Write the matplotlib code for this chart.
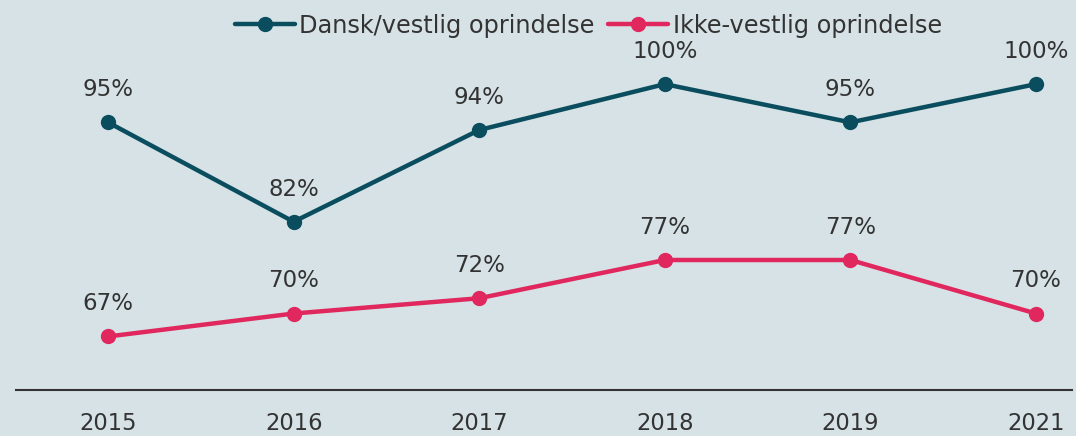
import matplotlib.pyplot as plt

years = ['2015', '2016', '2017', '2018', '2019', '2021']
dansk = [95, 82, 94, 100, 95, 100]
ikke = [67, 70, 72, 77, 77, 70]
navne = ['Dansk/vestlig oprindelse', 'Ikke-vestlig oprindelse']

bg = '#d6e2e6'
teal = '#0a4d5e'
pink = '#e0285f'
txt = '#333333'

plt.rcParams['font.family'] = ['DejaVu Sans']

fig = plt.figure(figsize=(10.76, 4.36), dpi=100)
fig.patch.set_facecolor(bg)
ax = fig.add_axes([16 / 1076, 46 / 436, (1072 - 16) / 1076, 390 / 436])
ax.set_facecolor(bg)

x = range(len(years))
for vals, col, navn in [(dansk, teal, navne[0]), (ikke, pink, navne[1])]:
    ax.plot(x, vals, color=col, lw=3.2, marker='o', ms=10, label=navn,
            solid_capstyle='round')
    for xi, v in zip(x, vals):
        ax.annotate('%d%%' % v, (xi, v), xytext=(0, 23.5), textcoords='offset points',
                    ha='center', va='center', fontsize=16.5, color=txt)

ax.set_xlim(-0.496, 5.194)
ax.set_ylim(60, 111)
ax.set_xticks(list(x))
ax.set_xticklabels(years, fontsize=16.3, color=txt)
ax.set_yticks([])
ax.tick_params(axis='x', length=0, pad=16)
for side in ['top', 'right', 'left']:
    ax.spines[side].set_visible(False)
ax.spines['bottom'].set_color('#333333')
ax.spines['bottom'].set_linewidth(1.5)

leg = ax.legend(loc='upper center', bbox_to_anchor=(0.542, 1.02), ncol=2, frameon=False,
                fontsize=17.3, handlelength=2.5, handletextpad=0.2, columnspacing=0.55)
for t in leg.get_texts():
    t.set_color(txt)

fig.savefig('out.png', dpi=100, facecolor=bg)
